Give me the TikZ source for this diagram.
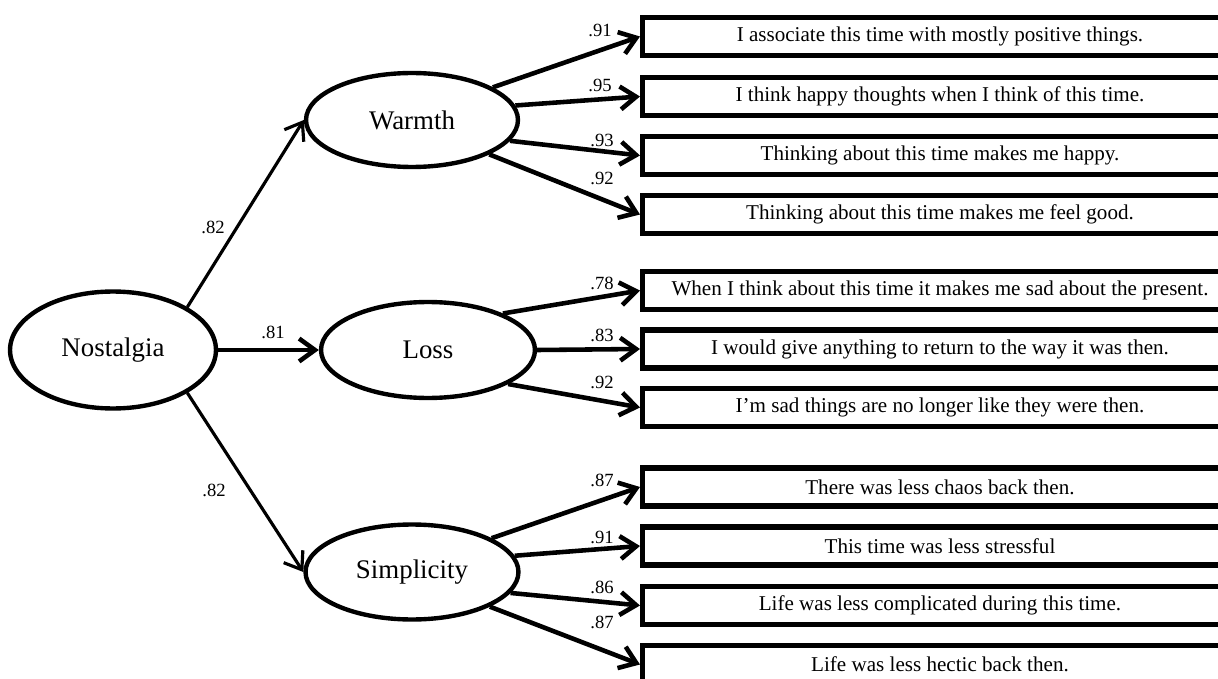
\documentclass[tikz,border=0pt]{standalone}
\usepackage{fontspec}
\setmainfont{Liberation Serif}
\usetikzlibrary{shapes.geometric,arrows.meta}

\tikzset{
  factor/.style={ellipse, draw, line width=2.5pt, inner sep=0pt, font=\fontsize{15.3}{18}\selectfont},
  item/.style={rectangle, draw, line width=2.9pt, anchor=west, minimum width=11.9cm, minimum height=0.76cm, inner sep=0pt, font=\fontsize{12}{14}\selectfont},
  load/.style={-{Straight Barb[length=9pt,width=13pt]}, line width=2.6pt},
  coef/.style={inner sep=0pt, font=\fontsize{10.6}{12}\selectfont}
}

\begin{document}
\begin{tikzpicture}[x=0.02cm, y=-0.02cm]
    \useasboundingbox (0,0) rectangle (1218,679);
    \clip (0,0) rectangle (1218,679);
    % Latent factors
    \node[factor, minimum width=4.12cm, minimum height=2.34cm] (nostalgia) at (113,350) {Nostalgia};
    \node[factor, minimum width=4.24cm, minimum height=1.88cm] (warmth) at (412,120) {Warmth};
    \node[factor, minimum width=4.28cm, minimum height=1.92cm] (loss) at (428,350) {Loss};
    \node[factor, minimum width=4.26cm, minimum height=1.90cm] (simplicity) at (412,572) {Simplicity};
    % Items
    \foreach \i/\y/\txt in {1/36.5/I associate this time with mostly positive things.,
        2/96.5/I think happy thoughts when I think of this time.,
        3/155.5/Thinking about this time makes me happy.,
        4/214.5/Thinking about this time makes me feel good.,
        5/290.5/When I think about this time it makes me sad about the present.,
        6/349/I would give anything to return to the way it was then.,
        7/407.5/I’m sad things are no longer like they were then.,
        8/487/There was less chaos back then.,
        9/546/This time was less stressful,
        10/605.5/Life was less complicated during this time.,
        11/664.5/Life was less hectic back then.} {
        \node[item] (b\i) at (640,\y) {\txt};
    }
    % Loadings
    \draw[load, line width=1.8pt] (nostalgia.30) -- (warmth.west);
    \draw[load] (nostalgia.east) -- (loss.west);
    \draw[load, line width=1.8pt] (nostalgia.-30) -- (simplicity.west);
    \foreach \src/\ang/\i in {warmth/22/1, warmth/8/2, warmth/-12/3, warmth/-24/4,
        loss/26/5, loss/0/6, loss/-23/7,
        simplicity/23/8, simplicity/9/9, simplicity/-12/10, simplicity/-24/11} {
        \draw[load] (\src.\ang) -- (b\i.west);
    }
    % Coefficients
    \foreach \n/\x/\y/\v in {cw/213/227/.82, cl/273/332/.81, cs/214/490/.82,
        c1/600/30/.91, c2/600/85/.95, c3/602/140/.93, c4/602/178/.92,
        c5/602/283/.78, c6/602/335/.83, c7/602/382/.92,
        c8/602/480/.87, c9/602/537/.91, c10/602/587/.86, c11/602/622/.87} {
        \node[coef] (\n) at (\x,\y) {\v};
    }
\end{tikzpicture}
\end{document}
